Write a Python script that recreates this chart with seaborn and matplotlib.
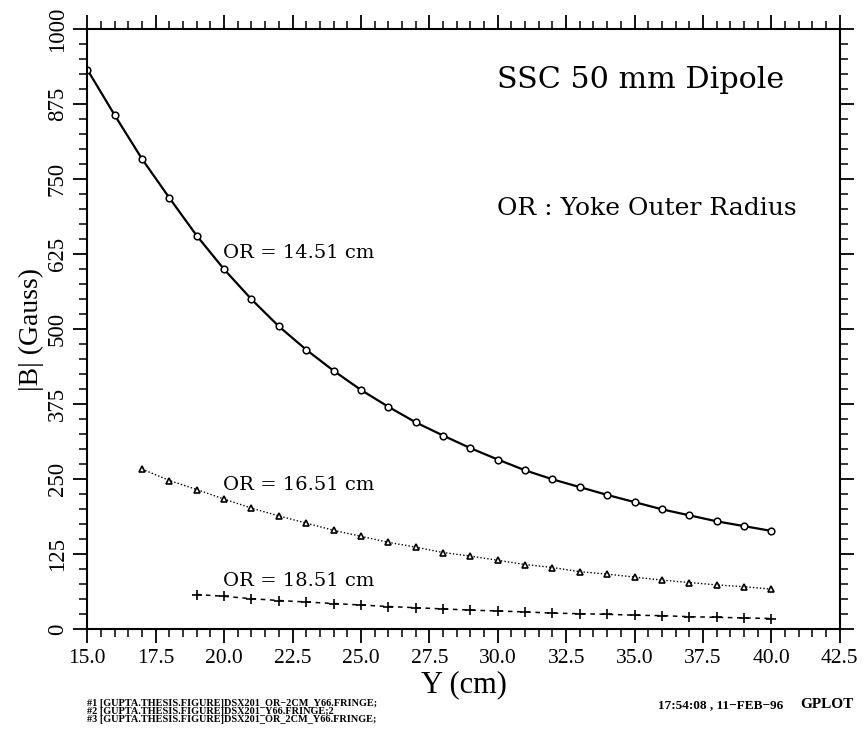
import numpy as np
import pandas as pd
import matplotlib
matplotlib.use("Agg")
import matplotlib.pyplot as plt
import seaborn as sns
from matplotlib.ticker import MultipleLocator, FormatStrFormatter

# ---- data ----
y_pos_1 = list(range(15, 41))
b_or_1451 = [933, 857, 784, 719, 656, 600, 550, 505, 466, 431, 399, 371, 345,
             323, 302, 283, 265, 250, 237, 224, 212, 200, 190, 180, 172, 164]
y_pos_2 = list(range(17, 41))
b_or_1651 = [267, 248, 233, 217, 202, 189, 177, 165, 155, 145, 137, 128, 122,
             115, 108, 103, 96, 92, 87, 82, 78, 74, 71, 67]
y_pos_3 = list(range(19, 41))
b_or_1851 = [58, 55, 51, 48, 45.5, 43, 40.5, 38, 36, 34, 32, 30.5, 29, 27, 26,
             25, 23.5, 22.8, 21, 20, 19, 18]

series_labels = ["OR = 14.51 cm", "OR = 16.51 cm", "OR = 18.51 cm"]
x_ticks = [15.0, 17.5, 20.0, 22.5, 25.0, 27.5, 30.0, 32.5, 35.0, 37.5, 40.0, 42.5]
y_ticks = [0, 125, 250, 375, 500, 625, 750, 875, 1000]

footer_lines = ["#1 [GUPTA.THESIS.FIGURE]DSX201_OR\u22122CM_Y66.FRINGE;",
                "#2 [GUPTA.THESIS.FIGURE]DSX201_Y66.FRINGE;2",
                "#3 [GUPTA.THESIS.FIGURE]DSX201_OR_2CM_Y66.FRINGE;"]

sns.set_style("ticks")
plt.rcParams['font.family'] = ['DejaVu Serif', 'DejaVu Sans']
plt.rcParams['text.color'] = 'black'
plt.rcParams['axes.labelcolor'] = 'black'
plt.rcParams['xtick.color'] = 'black'
plt.rcParams['ytick.color'] = 'black'

fig = plt.figure(figsize=(8.66, 7.35), dpi=100)
ax = fig.add_axes([0.1008, 0.1438, 0.9697 - 0.1008, 0.9601 - 0.1438])

df1 = pd.DataFrame({"Y": y_pos_1, "B": b_or_1451})
df2 = pd.DataFrame({"Y": y_pos_2, "B": b_or_1651})
df3 = pd.DataFrame({"Y": y_pos_3, "B": b_or_1851})

sns.lineplot(data=df1, x="Y", y="B", ax=ax, color="black", linewidth=1.6,
             marker="o", markersize=4.8, markerfacecolor="white",
             markeredgecolor="black", markeredgewidth=1.1, linestyle="-")
sns.lineplot(data=df2, x="Y", y="B", ax=ax, color="black", linewidth=1.0,
             marker="^", markersize=5.0, markerfacecolor="white",
             markeredgecolor="black", markeredgewidth=1.2, linestyle=(0, (1, 1.5)))
sns.lineplot(data=df3, x="Y", y="B", ax=ax, color="black", linewidth=1.1,
             marker="+", markersize=7, markeredgecolor="black",
             markeredgewidth=1.2, linestyle=(0, (3, 3)))

ax.set_xlim(15, 42.5)
ax.set_ylim(0, 1000)
ax.set_xticks(x_ticks)
ax.set_yticks(y_ticks)
ax.xaxis.set_major_formatter(FormatStrFormatter("%.1f"))
ax.xaxis.set_minor_locator(MultipleLocator(0.5))
ax.yaxis.set_minor_locator(MultipleLocator(25))

for s in ax.spines.values():
    s.set_visible(True)
    s.set_linewidth(1.5)
    s.set_color("black")

ax.tick_params(which="both", direction="out", top=True, right=True,
               labeltop=False, labelright=False, color="black",
               labelcolor="black")
ax.tick_params(which="major", length=10, width=1.3)
ax.tick_params(which="minor", length=6, width=1.1)

for lab in ax.get_xticklabels():
    lab.set_fontfamily("Liberation Serif")
    lab.set_fontsize(15.5)
for lab in ax.get_yticklabels():
    lab.set_fontfamily("Liberation Serif")
    lab.set_fontsize(16.5)
    lab.set_rotation(90)
    lab.set_va("center")
ax.tick_params(axis="x", pad=4)
ax.tick_params(axis="y", pad=4)

ax.set_xlabel("Y (cm)", fontsize=22, family="Liberation Serif", labelpad=2)
ax.set_ylabel("|B| (Gauss)", fontsize=20, family="Liberation Serif", labelpad=2)

ax.text(29.97, 915, "SSC 50 mm Dipole", fontsize=21.7, ha="left", va="center")
ax.text(29.97, 702, "OR : Yoke Outer Radius", fontsize=18, ha="left", va="center")
ax.text(19.95, 628, series_labels[0], fontsize=14, ha="left", va="center")
ax.text(19.95, 240, series_labels[1], fontsize=14, ha="left", va="center")
ax.text(19.95, 80, series_labels[2], fontsize=14, ha="left", va="center")

for i, line in enumerate(footer_lines):
    fig.text(87 / 866, 1 - (704 + i * 7.6) / 735, line, fontsize=7.4,
             family="Liberation Serif", weight="bold", ha="left", va="center")
fig.text(658 / 866, 1 - 705 / 735, "17:54:08 , 11\u2212FEB\u221296", fontsize=9.5,
         family="Liberation Serif", weight="bold", ha="left", va="center")
fig.text(800 / 866, 1 - 704 / 735, "GPLOT", fontsize=11,
         family="Liberation Serif", weight="bold", ha="left", va="center")

fig.savefig("out.png", dpi=100, facecolor="white")
